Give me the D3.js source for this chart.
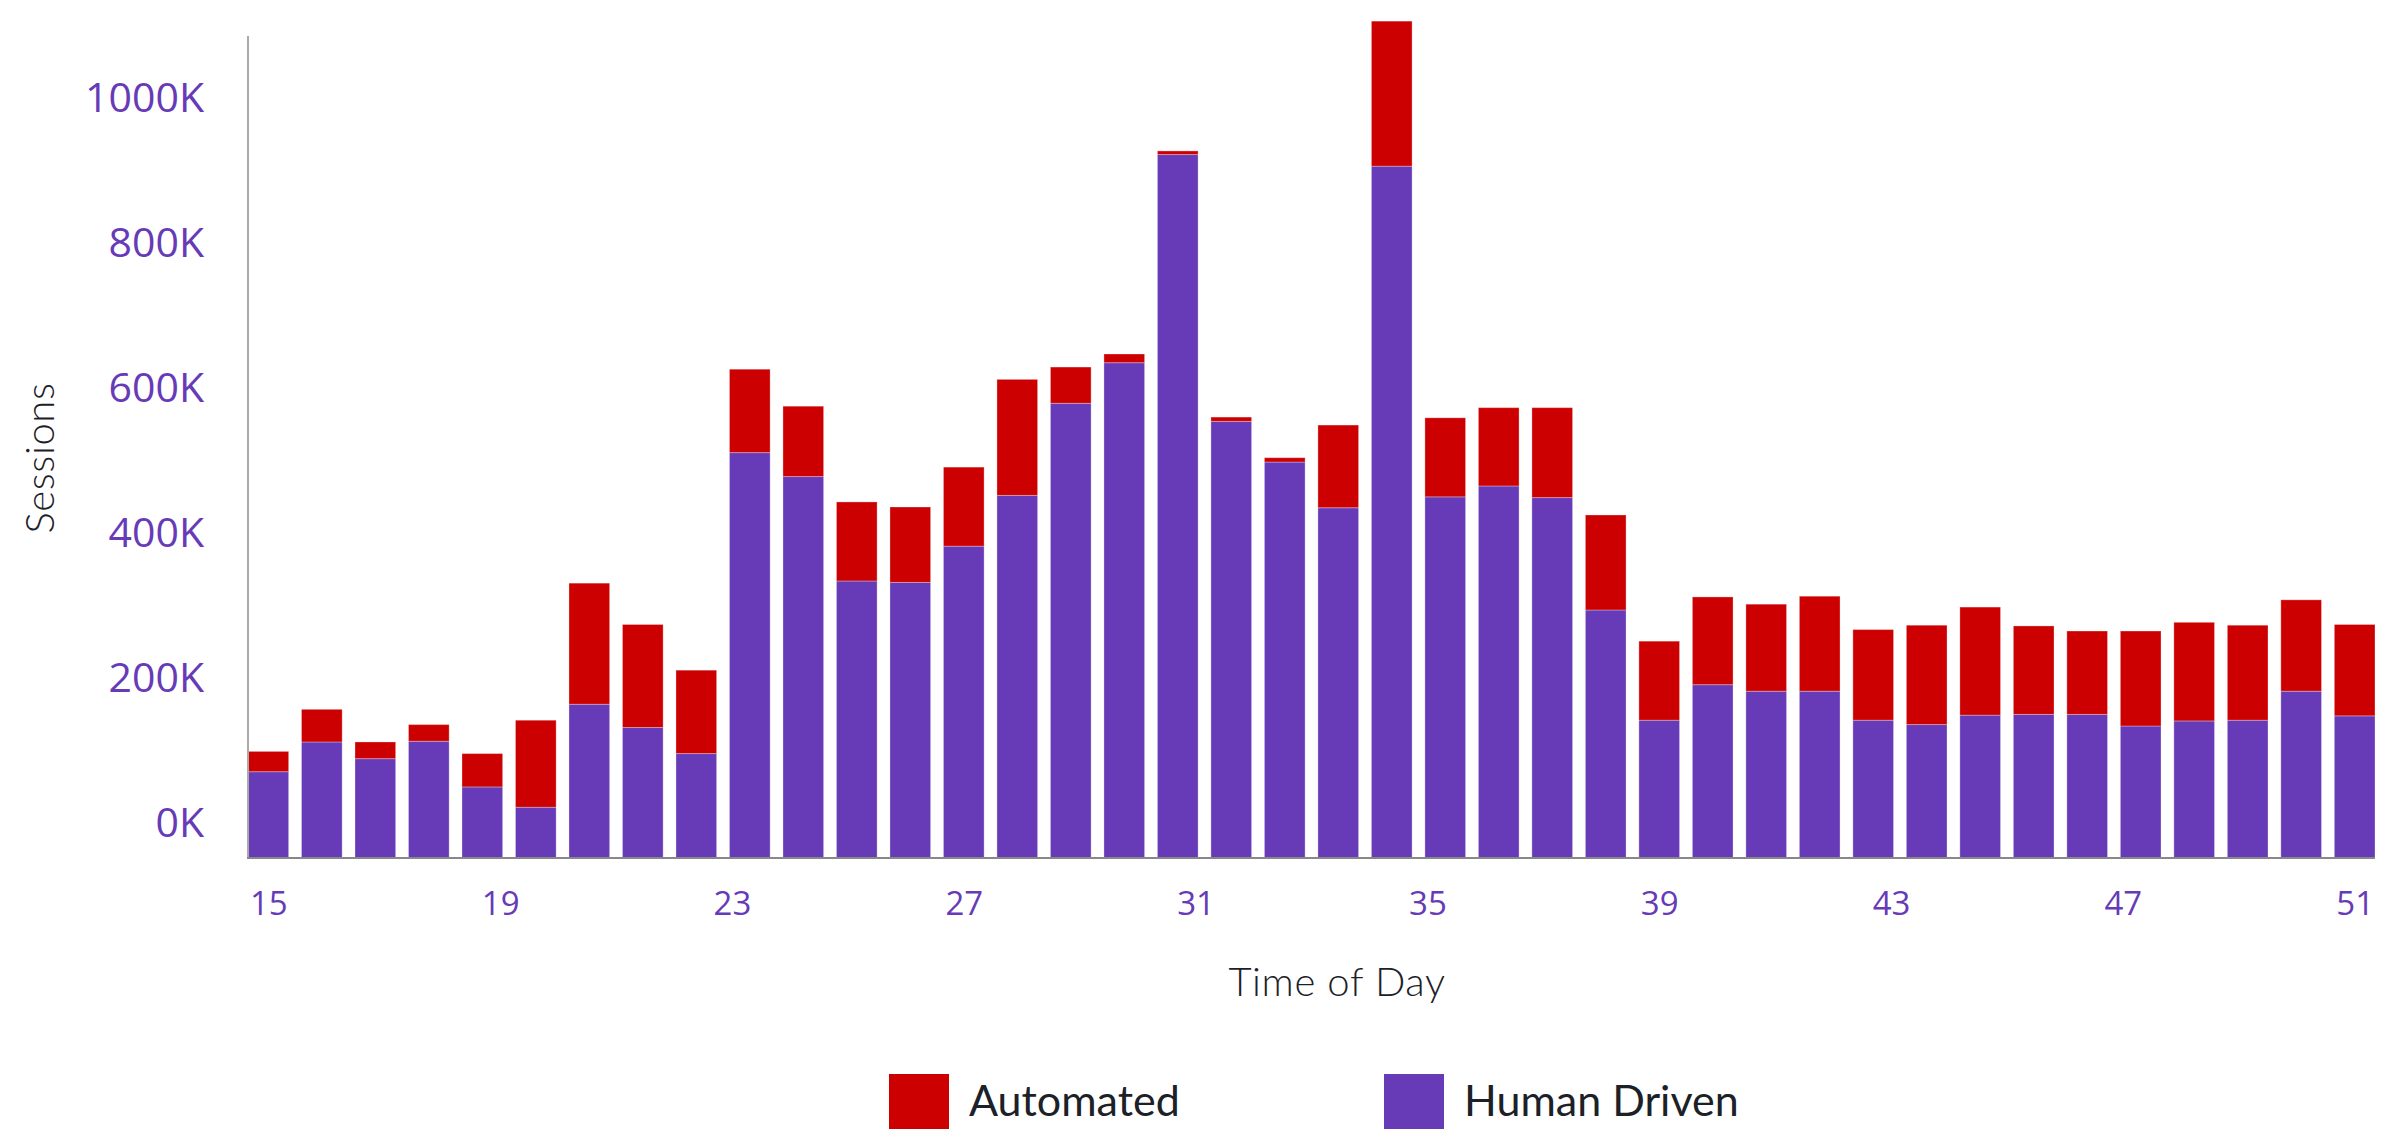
<!DOCTYPE html>
<html>
<head>
<meta charset="utf-8">
<script src="https://cdn.jsdelivr.net/npm/d3@7"></script>
<style>
  body { margin: 0; background: #fff; }
  .tick-label { font-family: "Open Sans", sans-serif; fill: #673ab7; }
  .axis-title { font-family: "Lato", sans-serif; font-weight: 300; fill: #1c2128; letter-spacing: 0.6px; }
  .legend-text { font-family: "Lato", sans-serif; fill: #1c2128; }
</style>
</head>
<body>
<svg id="chart" width="2400" height="1129"></svg>
<script>
// sessions per bar, in thousands
const slots = d3.range(40) // bar index, 40 slots
const human = [71, 112, 89, 113, 50, 22, 164, 132, 96, 511, 478, 334, 332, 382, 452, 579, 635, 922, 554, 498,
    435, 906, 450, 465, 449, 294, 142, 191, 182, 182, 142, 136, 149, 150, 150, 134, 141, 142, 182, 148]
const automated = [28, 45, 23, 23, 46, 120, 167, 142, 115, 115, 97, 109, 104, 109, 160, 50, 12, 5, 6, 6,
    114, 200, 109, 108, 124, 131, 109, 121, 120, 131, 125, 137, 149, 122, 115, 131, 136, 131, 126, 126]
const xTicks = [15, 19, 23, 27, 31, 35, 39, 43, 47, 51]
const yTicks = [0, 200, 400, 600, 800, 1000]
const keys = ["human", "automated"]
const labels = { automated: "Automated", human: "Human Driven" }
const colors = { automated: "#cc0000", human: "#673ab7" }

const data = slots.map(i => ({ slot: i, human: human[i] * 1000, automated: automated[i] * 1000 }))

const plot = { left: 248, right: 2375, top: 36, bottom: 858 }

const svg = d3.select("#chart")

const x = d3.scaleBand()
    .domain(slots)
    .range([plot.left, plot.right])
    .paddingInner(0.24)
    .paddingOuter(0)

// the time axis is linear and runs from the first bar centre to the last one
const xTime = d3.scaleLinear()
    .domain([15, 51])
    .range([x(0) + x.bandwidth() / 2, x(39) + x.bandwidth() / 2])

// zero sits a little above the bottom line
const y = d3.scaleLinear()
    .domain([-48000, 1000000])
    .range([plot.bottom, 98])

const series = d3.stack().keys(keys)(data)

svg.append("g")
    .selectAll("g")
    .data(series)
    .join("g")
    .attr("fill", d => colors[d.key])
    .selectAll("rect")
    .data(d => d)
    .join("rect")
    .attr("x", d => x(d.data.slot))
    .attr("width", x.bandwidth())
    .attr("y", d => y(d[1]))
    .attr("height", d => (d[0] === 0 ? plot.bottom : y(d[0])) - y(d[1]))
    .attr("stroke", "rgba(255,255,255,0.3)")
    .attr("stroke-width", 1)

// axis lines
svg.append("line")
    .attr("x1", plot.left).attr("x2", plot.left)
    .attr("y1", plot.top).attr("y2", plot.bottom)
    .attr("stroke", "#aaa").attr("stroke-width", 2)
svg.append("line")
    .attr("x1", plot.left - 1).attr("x2", plot.right)
    .attr("y1", plot.bottom).attr("y2", plot.bottom)
    .attr("stroke", "#888").attr("stroke-width", 2)

const yAxis = d3.axisLeft(y)
    .tickValues(yTicks.map(v => v * 1000))
    .tickSize(0)
    .tickPadding(44)
    .tickFormat(d => d / 1000 + "K")
const yg = svg.append("g").attr("transform", `translate(${plot.left},0)`).call(yAxis)
yg.select(".domain").remove()
yg.selectAll(".tick text").attr("class", "tick-label").style("font-size", "41px").attr("fill", null)

const xAxis = d3.axisBottom(xTime)
    .tickValues(xTicks)
    .tickSize(0)
    .tickPadding(34)
    .tickFormat(d3.format("d"))
const xg = svg.append("g").attr("transform", `translate(0,${plot.bottom})`).call(xAxis)
xg.select(".domain").remove()
xg.selectAll(".tick text").attr("class", "tick-label").style("font-size", "33px").attr("fill", null)

// axis titles
svg.append("text")
    .attr("class", "axis-title")
    .attr("x", 1337)
    .attr("y", 996)
    .attr("text-anchor", "middle")
    .style("font-size", "40px")
    .text("Time of Day")

svg.append("text")
    .attr("class", "axis-title")
    .attr("transform", "translate(54,458)rotate(-90)")
    .attr("text-anchor", "middle")
    .style("font-size", "40px")
    .text("Sessions")

// legend
const legendItems = [
    { key: "automated", x: 889 },
    { key: "human", x: 1384 }
]
const legend = svg.append("g")
    .selectAll("g")
    .data(legendItems)
    .join("g")
    .attr("transform", d => `translate(${d.x},1074)`)
legend.append("rect")
    .attr("width", 60)
    .attr("height", 70)
    .attr("fill", d => colors[d.key])
legend.append("text")
    .attr("class", "legend-text")
    .attr("x", 80)
    .attr("y", 42)
    .style("font-size", "43px")
    .text(d => labels[d.key])
</script>
</body>
</html>
